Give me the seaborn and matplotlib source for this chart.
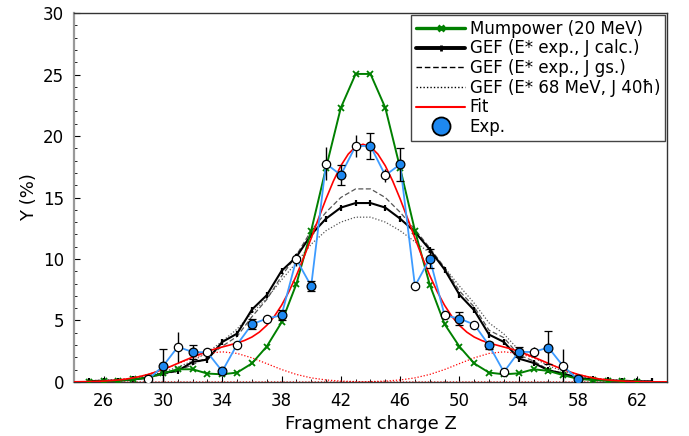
import numpy as np
import pandas as pd
import matplotlib
matplotlib.use("Agg")
import matplotlib.pyplot as plt
import seaborn as sns
from matplotlib.lines import Line2D
from matplotlib.ticker import MultipleLocator


# Values
z_model = list(range(25, 64))
gef_jcalc = [0.06, 0.1, 0.1, 0.2, 0.35, 0.73, 0.9, 1.63, 1.82, 3.25,
             3.93, 5.88, 7.05, 9.03, 10.16, 11.98, 13.28, 14.18, 14.55, 14.55,
             14.18, 13.28, 12.2, 10.76, 9.14, 7.1, 5.83, 3.85, 3.25, 1.9,
             1.55, 0.95, 0.68, 0.33, 0.2, 0.12, 0.1, 0.05, 0.05]
gef_jgs = [0.05, 0.08, 0.12, 0.2, 0.35, 0.6, 0.9, 1.4, 2.0, 2.9,
           3.7, 5.3, 6.7, 8.6, 10.3, 12.3, 13.8, 15.0, 15.7, 15.7,
           15.0, 13.8, 12.4, 10.9, 9.3, 7.4, 6.1, 4.2, 3.6, 2.2,
           1.7, 1.0, 0.7, 0.35, 0.2, 0.12, 0.08, 0.05, 0.03]
gef_68mev = [0.1, 0.15, 0.2, 0.3, 0.5, 0.8, 1.2, 1.7, 2.4, 3.3,
             4.3, 5.6, 6.8, 8.3, 9.7, 11.2, 12.3, 13.0, 13.4, 13.4,
             13.0, 12.3, 11.4, 10.5, 9.3, 7.8, 6.4, 4.8, 3.9, 2.6,
             2.0, 1.3, 0.9, 0.5, 0.3, 0.2, 0.12, 0.08, 0.05]

z_mump = list(range(25, 63))
mumpower = [0.02, 0.05, 0.1, 0.2, 0.35, 0.7, 1.03, 1.03, 0.68, 0.62,
            0.76, 1.5, 2.88, 4.84, 7.96, 12.3, 17.4, 22.3, 25.05, 25.05,
            22.3, 17.4, 12.3, 7.9, 4.7, 2.88, 1.5, 0.76, 0.62, 0.7,
            1.03, 0.9, 0.55, 0.25, 0.15, 0.1, 0.05, 0.02]

# fit curve (sampled every half charge unit)
z_fit = np.arange(24, 64.5, 0.5)
fit_total = [0.01, 0.02, 0.03, 0.044, 0.07, 0.11, 0.16, 0.23, 0.33, 0.46,
             0.61, 0.80, 1.02, 1.25, 1.51, 1.77, 2.02, 2.26, 2.48, 2.68,
             2.84, 3.00, 3.17, 3.37, 3.65, 4.05, 4.60, 5.31, 6.23, 7.35,
             8.65, 10.12, 11.69, 13.31, 14.89, 16.34, 17.58, 18.53, 19.13, 19.33,
             19.13, 18.53, 17.58, 16.34, 14.89, 13.31, 11.69, 10.12, 8.65, 7.35,
             6.23, 5.31, 4.60, 4.05, 3.65, 3.37, 3.17, 3.00, 2.84, 2.68,
             2.48, 2.26, 2.02, 1.77, 1.51, 1.25, 1.02, 0.80, 0.61, 0.46,
             0.33, 0.23, 0.16, 0.11, 0.07, 0.044, 0.03, 0.02, 0.01, 0.006, 0.004]

z_side = list(range(24, 65))
fit_left = [0.01, 0.027, 0.07, 0.16, 0.33, 0.61, 1.01, 1.49, 1.96, 2.32,
            2.45, 2.32, 1.96, 1.49, 1.01, 0.61, 0.33, 0.16, 0.07, 0.027,
            0.01, 0.003] + [0.0] * 19
fit_right = [0.0] * 18 + [0.003, 0.01, 0.027, 0.07, 0.16, 0.33, 0.61, 1.01, 1.49, 1.96,
                          2.32, 2.45, 2.32, 1.96, 1.49, 1.01, 0.61, 0.33, 0.16, 0.07,
                          0.027, 0.01, 0.003]

# experiment: measured (filled) and complementary (open)
z_exp = [30, 32, 34, 36, 38, 40, 42, 44, 46, 48, 50, 52, 54, 56, 58]
y_exp = [1.28, 2.44, 0.87, 4.69, 5.42, 7.8, 16.83, 19.19, 17.7, 10.03, 5.15, 2.98, 2.44, 2.8, 0.2]
err_exp = [1.43, 0.55, 0.2, 0.4, 0.4, 0.4, 0.85, 1.05, 1.35, 0.75, 0.5, 0.3, 0.4, 1.35, 0.1]

z_mir = [29, 31, 33, 35, 37, 39, 41, 43, 45, 47, 49, 51, 53, 55, 57]
y_mir = [0.2, 2.85, 2.4, 3.04, 5.15, 9.97, 17.75, 19.19, 16.8, 7.8, 5.42, 4.67, 0.81, 2.44, 1.28]
err_mir = [0.1, 1.2, 0.3, 0.2, 0.3, 0.5, 1.35, 0.9, 0.5, 0.3, 0.3, 0.3, 0.2, 0.4, 1.43]

exp_all = pd.DataFrame({'z': z_exp + z_mir, 'y': y_exp + y_mir}).sort_values('z')
#-------------------------------------------------------------------------------------------------------------------------------------

sns.set_theme(style='ticks')
plt.rcParams['font.family'] = ['DejaVu Sans']
plt.rcParams['text.color'] = 'black'
plt.rcParams['axes.labelcolor'] = 'black'
plt.rcParams['xtick.color'] = 'black'
plt.rcParams['ytick.color'] = 'black'

fig, ax = plt.subplots(figsize=(6.89, 4.36), dpi=100)
fig.subplots_adjust(left=0.1074, right=0.968, top=0.970, bottom=0.124)

blue_line = '#3d9bff'
blue_fill = '#1e88f0'

# GEF curves
sns.lineplot(x=z_model, y=gef_68mev, ax=ax, color='#555555', lw=0.9,
             linestyle=(0, (1, 1.5)), estimator=None, zorder=1)
sns.lineplot(x=z_model, y=gef_jgs, ax=ax, color='#555555', lw=0.9,
             linestyle=(0, (4, 2)), estimator=None, zorder=1)
sns.lineplot(x=z_model, y=gef_jcalc, ax=ax, color='black', lw=1.5, marker='|',
             markersize=5, mec='black', mew=1.6, estimator=None, zorder=2)

# Mumpower
sns.lineplot(x=z_mump, y=mumpower, ax=ax, color='green', lw=1.4, marker='x',
             markersize=5, mec='green', mew=1.3, estimator=None, zorder=3)

# Fit
sns.lineplot(x=z_side, y=fit_left, ax=ax, color='red', lw=0.9,
             linestyle=(0, (1, 1.5)), estimator=None, zorder=2)
sns.lineplot(x=z_side, y=fit_right, ax=ax, color='red', lw=0.9,
             linestyle=(0, (1, 1.5)), estimator=None, zorder=2)
sns.lineplot(x=z_fit, y=fit_total, ax=ax, color='red', lw=1.2, estimator=None, zorder=4)

# Experiment
sns.lineplot(data=exp_all, x='z', y='y', ax=ax, color=blue_line, lw=1.3,
             estimator=None, zorder=5)
ax.errorbar(z_mir, y_mir, yerr=err_mir, fmt='o', ms=6, mfc='white', mec='black',
            mew=0.9, ecolor='black', elinewidth=1.0, capsize=0, zorder=6)
ax.errorbar(z_exp, y_exp, yerr=err_exp, fmt='o', ms=6.3, mfc=blue_fill, mec='black',
            mew=0.9, ecolor='black', elinewidth=1.0, capsize=3, capthick=1.0, zorder=7)

ax.set_xlim(24, 64)
ax.set_ylim(0, 30)
ax.set_xticks(range(26, 63, 4))
ax.xaxis.set_minor_locator(MultipleLocator(1))
ax.yaxis.set_major_locator(MultipleLocator(5))
ax.yaxis.set_minor_locator(MultipleLocator(1))
ax.tick_params(which='both', direction='in', top=False, right=False, labelsize=12)
ax.tick_params(which='major', length=4, width=0.8, pad=7)
ax.tick_params(which='minor', length=2, width=0.6)

ax.set_xlabel('Fragment charge Z', fontsize=13)
ax.set_ylabel('Y (%)', fontsize=13)

for side in ['top', 'right', 'bottom']:
    ax.spines[side].set_color('#333333')
    ax.spines[side].set_linewidth(1.0)
ax.spines['left'].set_color('#999999')
ax.spines['left'].set_linewidth(1.6)

handles = [
    Line2D([], [], color='green', lw=2.4, marker='x', ms=5, mew=2),
    Line2D([], [], color='black', lw=2.8, marker='|', ms=5, mew=2),
    Line2D([], [], color='black', lw=1.0, linestyle=(0, (4, 2))),
    Line2D([], [], color='black', lw=1.0, linestyle=(0, (1, 1.5))),
    Line2D([], [], color='red', lw=1.5),
    Line2D([], [], color=blue_fill, lw=0, marker='o', ms=13, mec='black', mew=1.3),
]
labels = ['Mumpower (20 MeV)', 'GEF (E* exp., J calc.)', 'GEF (E* exp., J gs.)',
          'GEF (E* 68 MeV, J 40ħ)', 'Fit', 'Exp.']
leg = ax.legend(handles, labels, loc='upper right', bbox_to_anchor=(1, 1),
                borderaxespad=0.1, fontsize=12, frameon=True, fancybox=False,
                framealpha=1, edgecolor='#444444', labelspacing=0.1,
                handlelength=2.9, handletextpad=0.3, borderpad=0.3, numpoints=1)
leg.get_frame().set_linewidth(1.0)
leg.set_zorder(10)

plt.savefig('out.png', dpi=100)
